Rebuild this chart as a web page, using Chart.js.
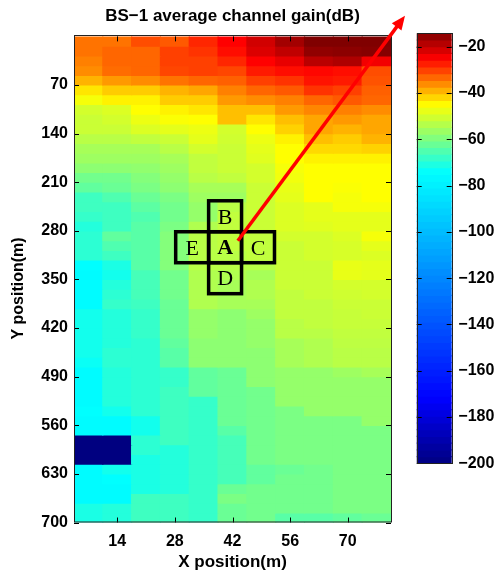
<!DOCTYPE html>
<html><head><meta charset="utf-8">
<script src="https://cdn.jsdelivr.net/npm/chart.js@4.4.0/dist/chart.umd.min.js"></script>
<style>
html,body{margin:0;padding:0;background:#fff;}
#wrap{position:relative;width:502px;height:582px;overflow:hidden;}
#main{position:absolute;left:0;top:0;}
#cbar{position:absolute;left:412px;top:0;}
</style></head><body>
<div id="wrap"><canvas id="main" width="502" height="582"></canvas><canvas id="cbar" width="90" height="582"></canvas></div>
<script>
// ---- data ----
const xPositions = [7,14,21,28,35,42,49,56,63,70,77];           // column centres (m)
const yPositions = [7,21,35,49,63,77,91,105,119,133,147,161,175,189,203,217,231,245,259,273,
  287,301,315,329,343,357,371,385,399,413,427,441,455,469,483,497,511,525,539,553,
  567,581,595,609,623,637,651,665,679,693];                        // row centres (m)
const cellWidth = 7, cellHeight = 14;                              // m
const xTicks = [14,28,42,56,70];
const yTicks = [70,140,210,280,350,420,490,560,630,700];
const cbTicks = [-20,-40,-60,-80,-100,-120,-140,-160,-180,-200];
const gainMin = -200, gainMax = -14.2;
// average channel gain (dB), one row per y position, one value per x position
const gain = [
[-34,-34,-31,-32,-28,-25,-21,-17,-14,-14,-14],
[-34,-33,-33,-30,-29,-26,-22,-19.5,-15.5,-15,-14.5],
[-35,-33,-33,-30,-30,-28,-25,-23,-19,-18,-24],
[-36,-33.5,-33,-30.5,-30,-30.5,-27,-26,-25.5,-26,-31],
[-39,-37,-36,-34,-33,-32.5,-30,-29,-26.5,-27,-31.5],
[-43,-41,-41,-39,-38,-35,-33,-32,-29,-30,-32.5],
[-46,-44,-44,-41,-41,-37,-36,-35,-33,-32,-33],
[-50,-49,-45,-44,-43,-40,-40,-37,-35.5,-35,-36],
[-51,-50,-47,-45.5,-45,-40,-43,-40,-38,-37,-38],
[-51,-51,-49,-48,-47,-50,-45,-41.5,-38,-39,-38],
[-53,-53,-52,-51,-48,-50.5,-47,-44,-40,-41,-39],
[-55,-55,-55,-53,-50,-51,-48,-45,-42,-42,-41.5],
[-56,-56,-56,-55,-52,-51,-48.5,-45,-44,-44,-44],
[-58,-58,-57.5,-56,-52,-51,-50,-46,-45,-45,-45],
[-61,-61,-59,-57,-53,-52,-50,-46.5,-45,-45,-45],
[-63,-62,-60,-58,-55,-55,-51,-47.5,-45,-45.5,-45],
[-67,-65,-62,-60,-56,-56,-51,-48,-45,-46,-45],
[-67,-67,-63.5,-61,-57,-53,-51,-49,-48,-46,-46],
[-68,-67,-65,-61,-57,-52,-51,-49,-48,-48,-48],
[-70,-67,-64,-60,-54,-52,-51,-49,-48.5,-48,-48],
[-69,-63,-64,-59,-53,-52,-52,-50,-50,-49,-46],
[-69,-65,-64,-59,-53,-52,-52,-51,-50,-49.5,-48],
[-69,-67,-64,-59,-53,-53,-52,-51,-50,-49.5,-49],
[-74,-71,-64,-59,-53,-53,-53,-51,-51,-47.5,-48],
[-75,-72,-66,-61,-54,-54,-55,-51,-51,-47.5,-48],
[-75,-70,-66,-61,-54,-55,-54,-51,-51,-50,-50],
[-75,-69,-66,-61,-54,-55,-54,-52,-51,-50.5,-50],
[-75,-68,-67,-62,-54,-55,-55,-52,-52,-51,-51],
[-72,-70,-68,-62,-57,-58,-56,-52,-52,-51.5,-51],
[-72,-70,-68,-62,-57,-58,-57,-53,-52,-51.5,-51.5],
[-72,-70,-68,-62,-57,-58,-57,-53,-53,-52,-52],
[-72,-70,-69,-63,-58,-58,-57,-55,-54,-52.5,-52.5],
[-72,-69,-69,-64,-58,-58,-58,-55,-54,-53,-53],
[-73,-69,-69,-64,-58,-58,-58,-55,-54,-53,-53],
[-75,-70,-69,-68,-63,-62,-58,-57,-57,-56,-55],
[-75,-70,-69,-68,-63,-62,-58,-57,-57,-57,-57],
[-75,-70,-69,-67,-63,-62,-61,-57,-57,-57,-57],
[-75,-70,-69,-67,-68,-62,-61,-57,-57,-57,-57],
[-74,-72,-69,-67,-68,-62,-61,-60,-57,-57,-57],
[-75,-75,-72,-67,-68,-62,-61,-60,-60,-60,-57],
[-75,-75,-72,-67,-68,-64,-61,-60,-60,-60,-60],
[-200,-200,-69,-67,-68,-66,-61,-60,-60,-60,-60],
[-200,-200,-69,-70,-68,-66,-61,-60,-60,-60,-60],
[-200,-200,-71,-70,-68,-66,-61,-60,-60,-60,-60],
[-75,-72,-71,-70,-68,-66,-63,-62,-61,-60,-60],
[-75,-74,-71,-70,-68,-66,-63,-61,-61,-60,-60],
[-75,-75,-71,-70,-68,-62,-61,-61,-61,-60,-60],
[-75,-75,-67,-67,-68,-60,-61,-61,-61,-60,-60],
[-71,-70,-67,-67,-68,-62,-61,-61,-61,-60,-60],
[-71,-70,-67,-67,-68,-62,-61,-64,-64,-63,-62]
];
// cell markers (data units) and the arrow
const markerLabels = ['B','E','A','C','D'];
const markerX = [40.2,32.2,40.2,48.2,40.2];
const markerY = [259,303.6,303.6,303.6,348.2];
const markerW = 8.0, markerH = 44.6;
const arrowFrom = [43.3,294.3], arrowTo = [83.9,-29.8];

// ---- colour map (jet-like) ----
const CMAP = [[-200,[0,0,128]],[-172,[0,0,255]],[-74,[0,255,255]],[-45,[255,255,0]],[-25,[255,0,0]],[-14,[128,0,0]]];
function gainColor(v){
  if (v <= CMAP[0][0]) return 'rgb('+CMAP[0][1].join(',')+')';
  for (let i=1;i<CMAP.length;i++){
    if (v <= CMAP[i][0]){
      const a=CMAP[i-1], b=CMAP[i], t=(v-a[0])/(b[0]-a[0]);
      const c=a[1].map((q,k)=>Math.round(q+(b[1][k]-q)*t));
      return 'rgb('+c.join(',')+')';
    }
  }
  return 'rgb('+CMAP[CMAP.length-1][1].join(',')+')';
}

const FONT = "'Liberation Sans', Arial, Helvetica, sans-serif";
const tickFont = {family:FONT, size:16, weight:'bold'};
const minus = v => (v<0?'\u2212':'')+Math.abs(v);

// ---- heat map datasets (one per row) ----
const datasets = gain.map((row,r)=>({
  data: row.map((v,c)=>({x:xPositions[c], y:[yPositions[r]-cellHeight/2, yPositions[r]+cellHeight/2]})),
  backgroundColor: row.map(v=>gainColor(v)),
  borderWidth:0, grouped:false, barPercentage:1, categoryPercentage:1, inflateAmount:0.6
}));

const framePlugin = {
  id:'frame',
  afterDatasetsDraw(chart){
    const {ctx, chartArea:a, scales:{x,y}} = chart;
    ctx.save();
    ctx.strokeStyle='#000'; ctx.lineWidth=1;
    ctx.beginPath();
    xTicks.forEach(v=>{const p=Math.round(x.getPixelForValue(v))+0.5;
      ctx.moveTo(p,a.bottom); ctx.lineTo(p,a.bottom-5); ctx.moveTo(p,a.top); ctx.lineTo(p,a.top+5);});
    yTicks.forEach(v=>{const p=Math.round(y.getPixelForValue(v))+0.5;
      ctx.moveTo(a.left,p); ctx.lineTo(a.left+5,p); ctx.moveTo(a.right,p); ctx.lineTo(a.right-5,p);});
    ctx.stroke();
    ctx.strokeStyle='#222';
    ctx.strokeRect(Math.round(a.left)+0.5, Math.round(a.top)-0.5, Math.round(a.right-a.left), Math.round(a.bottom-a.top)+0.5);
    // y axis title, placed like the reference
    ctx.fillStyle='#000'; ctx.font="bold 16px "+FONT; ctx.textAlign='center'; ctx.textBaseline='middle';
    ctx.translate(18.6, (a.top+a.bottom)/2+9); ctx.rotate(-Math.PI/2);
    ctx.fillText('Y position(m)',0,0);
    ctx.restore();
  }
};
const annotPlugin = {
  id:'annot',
  afterDraw(chart){
    const {ctx, scales:{x,y}} = chart;
    ctx.save();
    ctx.strokeStyle='#000'; ctx.lineWidth=3.5; ctx.lineJoin='miter';
    markerLabels.forEach((lab,i)=>{
      const x0=x.getPixelForValue(markerX[i]-markerW/2), x1=x.getPixelForValue(markerX[i]+markerW/2);
      const y0=y.getPixelForValue(markerY[i]-markerH/2), y1=y.getPixelForValue(markerY[i]+markerH/2);
      ctx.strokeRect(x0,y0,x1-x0,y1-y0);
    });
    ctx.fillStyle='#000'; ctx.textAlign='center'; ctx.textBaseline='middle';
    markerLabels.forEach((lab,i)=>{
      ctx.font=(lab==='A'?'bold ':'')+"22px 'Liberation Serif', 'Times New Roman', serif";
      ctx.fillText(lab, x.getPixelForValue(markerX[i]), y.getPixelForValue(markerY[i])+1.5);
    });
    // arrow
    const sx=x.getPixelForValue(arrowFrom[0]), sy=y.getPixelForValue(arrowFrom[1]);
    const ex=x.getPixelForValue(arrowTo[0]), ey=y.getPixelForValue(arrowTo[1]);
    const ang=Math.atan2(ey-sy, ex-sx), L=14, W=6;
    const bx=ex-L*Math.cos(ang), by=ey-L*Math.sin(ang);
    ctx.strokeStyle='#ff0000'; ctx.fillStyle='#ff0000'; ctx.lineWidth=3.5; ctx.lineCap='butt';
    ctx.beginPath(); ctx.moveTo(sx,sy); ctx.lineTo(bx+2*Math.cos(ang),by+2*Math.sin(ang)); ctx.stroke();
    ctx.beginPath(); ctx.moveTo(ex,ey);
    ctx.lineTo(bx+W*Math.sin(ang), by-W*Math.cos(ang));
    ctx.lineTo(bx-W*Math.sin(ang), by+W*Math.cos(ang));
    ctx.closePath(); ctx.fill();
    ctx.restore();
  }
};

new Chart(document.getElementById('main'), {
  type:'bar',
  data:{datasets},
  options:{
    responsive:false, animation:false, events:[],
    layout:{padding:{left:0,right:111,top:0,bottom:0}},
    plugins:{
      legend:{display:false}, tooltip:{enabled:false},
      title:{display:true, text:'BS\u22121 average channel gain(dB)', fullSize:false, color:'#000',
        font:{family:FONT, size:17, weight:'bold', lineHeight:1.2}, padding:{top:6,bottom:10}}
    },
    scales:{
      x:{type:'linear', min:3.5, max:80.5, offset:false,
        grid:{display:false, drawTicks:false}, border:{display:false},
        afterBuildTicks:s=>{s.ticks=xTicks.map(v=>({value:v}));},
        afterFit:s=>{s.height=59.5;},
        ticks:{color:'#000', font:tickFont, padding:9, maxRotation:0, autoSkip:false},
        title:{display:true, text:'X position(m)', color:'#000', font:{family:FONT,size:17,weight:'bold',lineHeight:1.2}, padding:{top:0,bottom:9.5}}
      },
      y:{type:'linear', reverse:true, min:0, max:700,
        grid:{display:false, drawTicks:false}, border:{display:false},
        afterBuildTicks:s=>{s.ticks=yTicks.map(v=>({value:v}));},
        afterFit:s=>{s.width=74;},
        ticks:{color:'#000', font:tickFont, padding:6, autoSkip:false},
        title:{display:false}
      }
    }
  },
  plugins:[framePlugin, annotPlugin]
});

// ---- colour bar ----
const nBands = 64, bandLo = [], bandHi = [], bandCol = [];
for (let i=0;i<nBands;i++){
  const lo=gainMin+(gainMax-gainMin)*i/nBands, hi=gainMin+(gainMax-gainMin)*(i+1)/nBands;
  bandLo.push(lo); bandHi.push(hi); bandCol.push(gainColor((lo+hi)/2));
}
const cbFrame = {
  id:'cbframe',
  afterDatasetsDraw(chart){
    const {ctx, chartArea:a, scales:{y}} = chart;
    ctx.save(); ctx.strokeStyle='#000'; ctx.lineWidth=1; ctx.beginPath();
    cbTicks.forEach(v=>{const p=Math.round(y.getPixelForValue(v))+0.5;
      ctx.moveTo(a.left,p); ctx.lineTo(a.left+5,p); ctx.moveTo(a.right,p); ctx.lineTo(a.right-5,p);});
    ctx.stroke();
    ctx.strokeStyle='#222';
    ctx.strokeRect(Math.round(a.left)+0.5, Math.round(a.top)+0.5, Math.round(a.right-a.left), Math.round(a.bottom-a.top));
    ctx.restore();
  }
};
new Chart(document.getElementById('cbar'), {
  type:'bar',
  data:{labels:['cb'], datasets:[{
    data: bandLo.map((lo,i)=>({x:'cb', y:[lo,bandHi[i]]})),
    backgroundColor: bandCol, borderWidth:0, barPercentage:1, categoryPercentage:1, inflateAmount:0.6
  }]},
  options:{
    responsive:false, animation:false, events:[],
    layout:{padding:{left:4.7,right:0,top:33.3,bottom:118.7}},
    plugins:{legend:{display:false}, tooltip:{enabled:false}},
    scales:{
      x:{type:'category', display:false},
      y:{position:'right', min:gainMin, max:gainMax,
        grid:{display:false, drawTicks:false}, border:{display:false},
        afterBuildTicks:s=>{s.ticks=cbTicks.map(v=>({value:v}));},
        afterFit:s=>{s.width=50.3;},
        ticks:{color:'#000', font:tickFont, padding:6.6, autoSkip:false, callback:v=>minus(v)}
      }
    }
  },
  plugins:[cbFrame]
});
</script>
</body></html>
